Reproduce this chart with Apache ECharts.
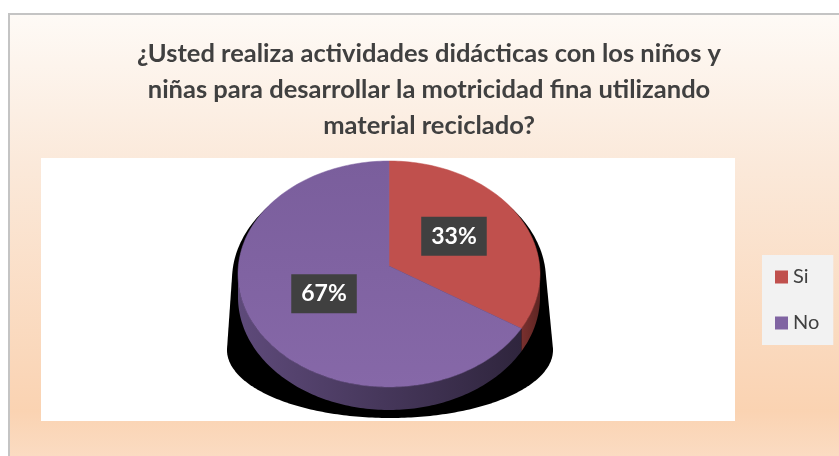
<!DOCTYPE html>
<html>
<head>
<meta charset="utf-8">
<script src="https://cdn.jsdelivr.net/npm/echarts@6/dist/echarts.min.js"></script>
<style>
  html, body { margin: 0; padding: 0; width: 839px; height: 456px; overflow: hidden; background: #fff; }
  #bg {
    position: absolute; left: 8px; top: 13px; width: 840px; height: 450px;
    border-left: 2px solid #C4C4C4; border-top: 2px solid #C4C4C4;
    background: linear-gradient(to bottom, #FEFAF6 0%, #FBE9DA 33%, #FAD6B8 80%, #FAD3B2 88%, #FBDDC5 100%);
  }
  #main { position: absolute; left: 0; top: 0; width: 839px; height: 456px; }
</style>
</head>
<body>
<div id="bg"></div>
<div id="main"></div>
<script>
const categories = ['Si', 'No'];
const values = [33, 67];
const titleText = '¿Usted realiza actividades didácticas con los niños y\nniñas para desarrollar la motricidad fina utilizando\nmaterial reciclado?';

// pie layout (ellipse seen in perspective)
const cx = 389, cy = 274, rx = 151, ry = 113, depth = 23, vertexY = 266;
const palette = ['#C0504D', '#8064A2'];
const sideColors = [['#7A302E', '#5E2523'], ['#5E4A7A', '#2F253D']];
const fontFam = 'Lato, "Open Sans", sans-serif';

const total = values.reduce((a, b) => a + b, 0);

function pt(theta, x0, y0, rX, rY) {
  return [x0 + rX * Math.sin(theta), y0 - rY * Math.cos(theta)];
}
function arc(a, b, x0, y0, rX, rY) {
  const pts = [];
  const n = Math.max(2, Math.ceil((b - a) / 0.02));
  for (let k = 0; k <= n; k++) pts.push(pt(a + (b - a) * k / n, x0, y0, rX, rY));
  return pts;
}
function hull(points) {
  const p = points.slice().sort((a, b) => a[0] - b[0] || a[1] - b[1]);
  const cross = (o, a, b) => (a[0] - o[0]) * (b[1] - o[1]) - (a[1] - o[1]) * (b[0] - o[0]);
  const lower = [], upper = [];
  for (const q of p) {
    while (lower.length >= 2 && cross(lower[lower.length - 2], lower[lower.length - 1], q) <= 0) lower.pop();
    lower.push(q);
  }
  for (let i = p.length - 1; i >= 0; i--) {
    const q = p[i];
    while (upper.length >= 2 && cross(upper[upper.length - 2], upper[upper.length - 1], q) <= 0) upper.pop();
    upper.push(q);
  }
  upper.pop(); lower.pop();
  return lower.concat(upper);
}

function makeRender(i) {
  return function (params, api) {
    const before = values.slice(0, i).reduce((a, b) => a + b, 0);
    const start = before / total * Math.PI * 2;
    const end = start + api.value(0) / total * Math.PI * 2;
    const children = [];
    // visible side wall (front half)
    const a = Math.max(start, Math.PI / 2), b = Math.min(end, Math.PI * 1.5);
    if (a < b) {
      const upper = arc(a, b, cx, cy, rx, ry);
      const lower = upper.map(p => [p[0], p[1] + depth]).reverse();
      children.push({
        type: 'polygon',
        shape: { points: upper.concat(lower) },
        style: {
          fill: new echarts.graphic.LinearGradient(0, 0, 1, 0, [
            { offset: 0, color: sideColors[i][0] },
            { offset: 1, color: sideColors[i][1] }
          ])
        }
      });
    }
    // top face
    const top = [[cx, vertexY]].concat(arc(start, end, cx, cy, rx, ry));
    children.push({
      type: 'polygon',
      shape: { points: top },
      style: {
        fill: i === 1
          ? new echarts.graphic.LinearGradient(0, 0, 0, 1, [
              { offset: 0, color: '#7A5E9C' },
              { offset: 1, color: '#8668A8' }
            ])
          : palette[i],
        stroke: palette[i], lineWidth: 0.5
      }
    });
    // percentage label
    const mid = (start + end) / 2;
    const lp = pt(mid, cx, cy - 9, rx * 0.5, ry * 0.5);
    children.push({
      type: 'text',
      z2: 10,
      style: {
        text: Math.round(api.value(0) / total * 100) + '%',
        x: lp[0], y: lp[1],
        align: 'center', verticalAlign: 'middle',
        fill: '#FFFFFF',
        font: 'bold 23px ' + fontFam,
        backgroundColor: '#404040',
        padding: [8, 10, 8, 10]
      }
    });
    return { type: 'group', children: children };
  };
}

// drop shadow silhouette behind the pie
const shadowPts = hull(
  arc(0, Math.PI * 2, cx, 280, 157, 115).concat(arc(0, Math.PI * 2, cx + 1, 350, 163, 68))
);

const chart = echarts.init(document.getElementById('main'), null, { renderer: 'canvas' });
chart.setOption({
  backgroundColor: 'transparent',
  animation: false,
  title: {
    text: titleText,
    left: 424,
    top: 31,
    textAlign: 'center',
    textStyle: {
      fontFamily: fontFam,
      fontWeight: 'bold',
      fontSize: 25.5,
      lineHeight: 36,
      color: '#404040'
    }
  },
  legend: {
    data: categories,
    orient: 'vertical',
    left: 762,
    top: 255,
    backgroundColor: '#F2F2F2',
    padding: [12, 14, 12, 13],
    itemGap: 26,
    itemWidth: 13,
    itemHeight: 13,
    icon: 'rect',
    textStyle: { fontFamily: fontFam, fontSize: 20, color: '#404040' }
  },
  graphic: [
    { type: 'rect', shape: { x: 41, y: 158, width: 694, height: 263 }, style: { fill: '#FFFFFF' }, silent: true },
    { type: 'polygon', shape: { points: shadowPts }, style: { fill: '#000000' }, silent: true }
  ],
  series: categories.map((name, i) => ({
    type: 'custom',
    name: name,
    coordinateSystem: 'none',
    itemStyle: { color: palette[i] },
    data: [values[i]],
    renderItem: makeRender(i)
  }))
});
</script>
</body>
</html>
